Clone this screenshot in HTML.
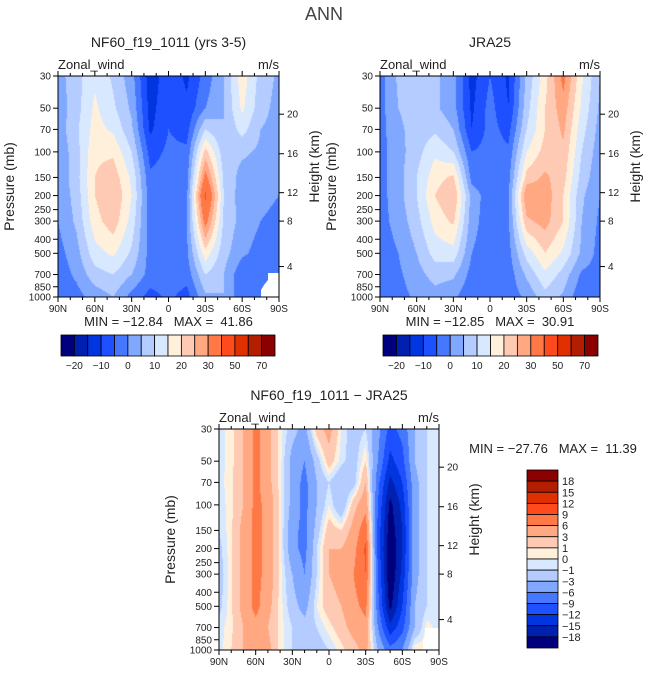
<!DOCTYPE html>
<html><head><meta charset="utf-8">
<style>
html,body{margin:0;padding:0;background:#fff;}
#root{position:relative;width:648px;height:674px;overflow:hidden;font-family:"Liberation Sans",sans-serif;color:#222;}
canvas{position:absolute;}
svg{position:absolute;left:0;top:0;}
svg text{white-space:pre;}
</style></head>
<body>
<div id="root">
<canvas id="cA" width="221" height="221" style="left:58px;top:76px"></canvas>
<canvas id="cB" width="220" height="221" style="left:380px;top:76px"></canvas>
<canvas id="cC" width="220" height="221" style="left:219px;top:429px"></canvas>
<svg id="ov" width="648" height="674"></svg>
</div>
<script>
// ---- data ----
const pressures = [30,50,70,100,150,200,300,500,700,1000];
const lats13 = [90,75,60,45,30,15,0,-15,-30,-45,-60,-75,-90];
const lats19 = [90,80,70,60,50,40,30,20,10,0,-10,-20,-30,-40,-50,-60,-70,-80,-90];
const modelWind = [
 [3, 8, 14, 9, 2, -13, -7, -11, -3, 5, 18, 8, 4],
 [2, 8, 16, 11, 4, -12, -6, -9, 0, 5, 16, 7, 3],
 [2, 9, 17, 14, 6, -11, -5, -7, 10, 5, 12, 5, 3],
 [1, 8, 19, 19, 10, -7, -4, -4, 22, 7, 6, 4, 2],
 [1, 8, 20, 23, 14, -4, -3, -2, 33, 9, 3, 2, 1],
 [1, 7, 20, 25, 15, -3, -3, -1, 42, 10, 2, 1, 0],
 [0, 6, 18, 23, 13, -3, -3, 0, 33, 9, 3, 0, -1],
 [-2, 3, 13, 16, 9, -2, -3, -1, 18, 7, 1, -2, -3],
 [-3, 1, 8, 10, 5, -2, -2, -3, 10, 5, -4, -5, -3],
 [-1, -2, 2, 5, -2, -7, -4, -7, 4, 5, -4, -5, -3]];
const jraWind = [
 [-2, 6, 8, 6, 2, -12, -5, -11, 6, 18, 32, 16, 5],
 [-2, 5, 7, 6, 2, -11, -3, -10, 8, 20, 28, 14, 4],
 [-2, 4, 7, 9, 5, -10, -3, -7, 10, 20, 26, 12, 3],
 [-2, 3, 8, 14, 10, -5, -3, -4, 15, 22, 24, 10, 2],
 [-2, 3, 10, 18, 21, -2, -3, -2, 22, 26, 22, 8, 1],
 [-2, 3, 10, 20, 25, 3, -3, -1, 30, 28, 20, 6, 0],
 [-2, 2, 8, 17, 21, 2, -3, -1, 24, 27, 20, 5, -1],
 [-3, 0, 5, 12, 13, 0, -3, -2, 12, 20, 14, 4, -2],
 [-3, -1, 3, 7, 6, -2, -3, -3, 6, 14, 8, -1, -2],
 [-3, -2, 1, 3, 1, -4, -4, -3, 1, 8, 4, -4, -2]];
const diffWind = [
 [-0.5,0.5,3,7,4,0.5,-2,-4,2,4,0,-2,-1,-5,-10,-8,-3,-1,-0.5],
 [-0.5,0.5,3,7,4,0.5,-4,-6,-2,2,-0.5,-2,1,-6,-13,-10,-3,-1,-0.5],
 [-0.5,0.7,3,7,4,0.5,-4,-7,-3,-1,-3,-2,3,-8,-16,-12,-4,-1,-0.5],
 [-0.8,0.7,3,7,5,0.5,-4,-7,-3,0,-3,2,5,-9,-19,-14,-4,-1,-0.5],
 [-1,0.7,4,7,5,0.5,-5,-7,-2,2,1,4,8,-10,-20,-15,-4,-1,-0.5],
 [-1.5,0.7,4,7,5,0.5,-5,-7,-1,3,3,5,9.5,-10,-21,-15,-4,-1,-0.5],
 [-2,0.7,4,7,5,0.5,-3,-6,-1,3,4,6,9,-9,-21,-14,-4,-1,-0.5],
 [-1.5,0.7,4,7,4,0.5,-2,-4,0,2,3,5,7,-8,-19,-12,-3,-1,-0.5],
 [-0.5,0.7,3,5,3,0.5,-1,-2,-1,0.5,2,4,5,-6,-14,-10,-3,0.5,-0.5],
 [-0.5,1,3,5,4,0.5,-1,-1,-2,-1,0.5,2,4,-3,-8,-6,1,0.5,-0.5]];
const windLevels = [-20,-15,-10,-5,0,5,10,15,20,25,30,40,50,60,70];
const windLabels = ["-20","-10","0","10","20","30","50","70"];
const diffLevels = [-18,-15,-12,-9,-6,-3,-1,0,1,3,6,9,12,15,18];
const pressureTicks = [30,50,70,100,150,200,250,300,400,500,700,850,1000];
const heightTicks = [20,16,12,8,4];
const heightTickPressures = [55,103,191,300,617];
const latTicks = ["90N","60N","30N","0","30S","60S","90S"];
const colors = ["#00007f","#0020b0","#0035e0","#1e50ff","#4678ff","#80a8ff","#b4ccff","#d8e8ff","#fff0dc","#ffcab4","#ffa882","#ff7846","#ff4a1e","#e03000","#b41e00","#8b0000"];

const L30 = Math.log(30), LR = Math.log(1000/30);
function yFrac(p){return (Math.log(p)-L30)/LR;}
function hex(c){return [parseInt(c.substr(1,2),16),parseInt(c.substr(3,2),16),parseInt(c.substr(5,2),16)];}
const rgb = colors.map(hex);
const lp = pressures.map(p=>Math.log(p));

function interp(grid, lats, lat, logp){
  let i=0; while(i<lats.length-2 && lat<lats[i+1]) i++;
  let tx=(lats[i]-lat)/(lats[i]-lats[i+1]); tx=Math.max(0,Math.min(1,tx));
  let j=0; while(j<lp.length-2 && logp>lp[j+1]) j++;
  let ty=(logp-lp[j])/(lp[j+1]-lp[j]); ty=Math.max(0,Math.min(1,ty));
  const a=grid[j][i],b=grid[j][i+1],c=grid[j+1][i],d=grid[j+1][i+1];
  return (a*(1-tx)+b*tx)*(1-ty)+(c*(1-tx)+d*tx)*ty;
}
function drawField(id, grid, lats, levels){
  const cv=document.getElementById(id), ctx=cv.getContext('2d');
  const w=cv.width,h=cv.height, img=ctx.createImageData(w,h);
  for(let y=0;y<h;y++){
    const logp=L30+(y+0.5)/h*LR;
    for(let x=0;x<w;x++){
      const lat=90-180*(x+0.5)/w;
      const v=interp(grid,lats,lat,logp);
      let k=0; while(k<levels.length && v>=levels[k]) k++;
      const c=rgb[k], o=(y*w+x)*4;
      img.data[o]=c[0];img.data[o+1]=c[1];img.data[o+2]=c[2];img.data[o+3]=255;
    }
  }
  ctx.putImageData(img,0,0);
}
drawField('cA',modelWind,lats13,windLevels);
drawField('cB',jraWind,lats13,windLevels);
drawField('cC',diffWind,lats19,diffLevels);

const NS='http://www.w3.org/2000/svg', ov=document.getElementById('ov');
function el(tag, attrs, parent){const e=document.createElementNS(NS,tag);for(const k in attrs)e.setAttribute(k,attrs[k]);(parent||ov).appendChild(e);return e;}
function txt(x,y,s,size,anchor,parent,extra){const t=el('text',Object.assign({x:x,y:y,'font-size':size,'text-anchor':anchor||'start',fill:'#222','font-family':'Liberation Sans, sans-serif'},extra||{}),parent);t.textContent=s;return t;}

const ft=txt(324,20,"ANN",18,'middle',ov,{fill:'#444'});


function panel(x0,y0,w,h,title,name,minmax,blank){
  const g=el('g',{});
  
  
  const t=txt(x0+w/2,47,title,14,'middle',g); 
  if(y0>300){t.setAttribute('y',400);}
  const zl=txt(x0,y0-7,"Zonal_wind",13,'start',g); 
  const ul=txt(x0+w,y0-7,"m/s",13,'end',g); 
  if(blank){const pg=el('polygon',{points:blank,fill:'#fff'},g);}
  el('rect',{x:x0,y:y0,width:w,height:h,fill:'none',stroke:'#000','stroke-width':1},g);
  pressureTicks.forEach(p=>{
    const y=y0+h*yFrac(p);
    el('line',{x1:x0-5,x2:x0,y1:y,y2:y,stroke:'#000'},g);
    const l=txt(x0-7,y+3.5,String(p),10,'end',g); 
  });
  heightTicks.forEach((hk,i)=>{
    const y=y0+h*yFrac(heightTickPressures[i]);
    el('line',{x1:x0+w,x2:x0+w+5,y1:y,y2:y,stroke:'#000'},g);
    const l=txt(x0+w+8,y+3.5,String(hk),10,'start',g); 
  });
  for(let d=0;d<=180;d+=10){
    const x=x0+w*d/180, len=(d%30===0)?5:3;
    el('line',{x1:x,x2:x,y1:y0+h,y2:y0+h+len,stroke:'#000'},g);
    el('line',{x1:x,x2:x,y1:y0,y2:y0-len,stroke:'#000'},g);
  }
  latTicks.forEach((s,i)=>{const l=txt(x0+w*i/6,y0+h+15,s,10,'middle',g);});
  const yl=txt(0,0,"Pressure (mb)",14,'middle',g,{transform:`translate(${x0-44},${y0+h/2}) rotate(-90)`}); 
  const hl=txt(0,0,"Height (km)",14,'middle',g,{transform:`translate(${x0+w+40},${y0+h/2-20}) rotate(-90)`}); 
  if(minmax){const m=txt(x0+w/2,y0+h+29,minmax,13,'middle',g); }
}
panel(58,76,221,221,"NF60_f19_1011 (yrs 3-5)","model-panel","MIN = −12.84   MAX =  41.86","279,273 268,273 268,280 264,285 261,290 261,297 279,297");
panel(380,76,220,221,"JRA25","jra25-panel","MIN = −12.85   MAX =  30.91",null);
panel(219,429,220,221,"NF60_f19_1011 − JRA25","difference-panel",null,"439,628 425,628 425,636 423,640 423,650 439,650");
const mm=txt(553,453,"MIN = −27.76   MAX =  11.39",13,'middle',ov);


function hbar(x0,y0,w,h,name){
  const g=el('g',{});  
  const bw=w/colors.length;
  colors.forEach((c,i)=>{const r=el('rect',{x:x0+i*bw,y:y0,width:bw,height:h,fill:c,stroke:'#000','stroke-width':0.8},g);});
  windLabels.forEach((s,i)=>{const l=txt(x0+bw*(1+2*i),y0+h+13,s.replace('-','−'),10,'middle',g);});
}
hbar(61,335,214,21,'model-colorbar');
hbar(383,335,215,21,'jra25-colorbar');
(function(){
  const g=el('g',{});  
  const x0=527,y0=470,w=31,h=178,bh=h/colors.length;
  colors.slice().reverse().forEach((c,i)=>{const r=el('rect',{x:x0,y:y0+i*bh,width:w,height:bh,fill:c,stroke:'#000','stroke-width':0.8},g);});
  diffLevels.slice().reverse().forEach((v,i)=>{const l=txt(x0+w+4,y0+bh*(i+1)+4,String(v).replace('-','−'),11,'start',g);});
})();
</script>
</body></html>
